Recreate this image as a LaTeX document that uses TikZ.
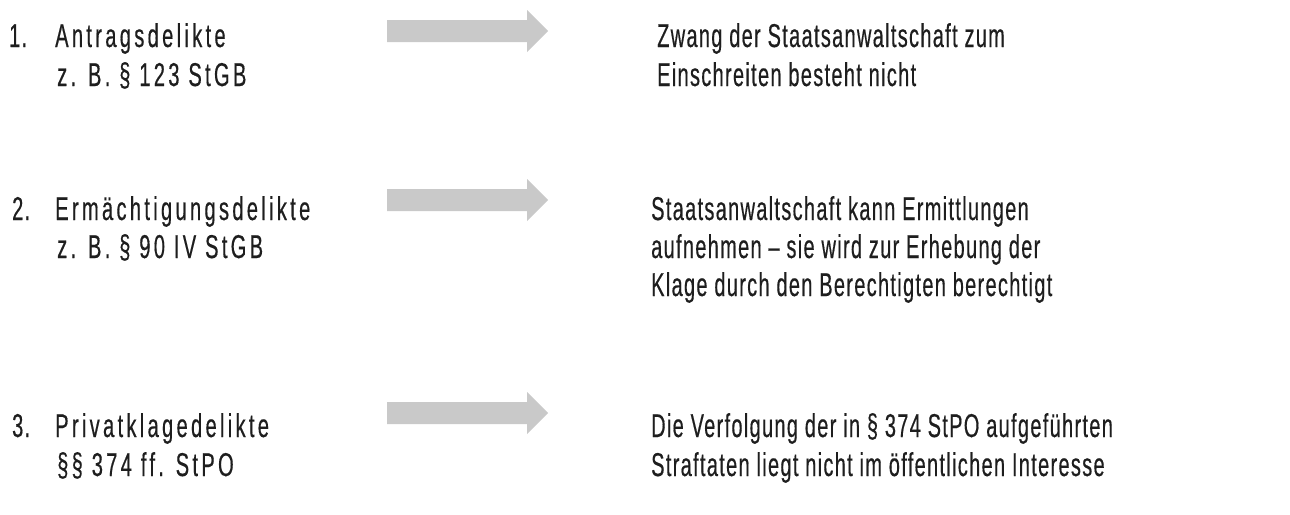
\documentclass[tikz,border=0pt]{standalone}
\usepackage{fontspec}
\setmainfont{Liberation Sans}[FakeStretch=0.605,LetterSpace=4,FakeBold=0.4]
\newfontfamily\leftfont{Liberation Sans}[FakeStretch=0.61,LetterSpace=10,FakeBold=0.4]
\definecolor{txtcol}{HTML}{1E1E1E}
\definecolor{arrcol}{HTML}{C9C9C9}
\begin{document}
\begin{tikzpicture}[x=1pt,y=-1pt,
  txt/.style={anchor=base west,inner sep=0pt,text=txtcol,font=\fontsize{33}{38}\selectfont},
  ltxt/.style={txt,font=\leftfont\fontsize{33}{38}\selectfont},
  blockarrow/.style={fill=arrcol,draw=none}]
\useasboundingbox (0,0) rectangle (1290,514);
% arrows
\foreach \c/\n in {31/a1,200/a2,413/a3}{
  \fill[blockarrow] (387,\c-11) -- (527,\c-11) -- (527,\c-21) -- (548,\c)
     -- (527,\c+21) -- (527,\c+11) -- (387,\c+11) -- cycle;
}
% row 1
\node[txt] (n1) at (9,47) {1.};
\node[ltxt] (l1a) at (55,47) {Antragsdelikte};
\node[ltxt] (l1b) at (57,86) {z. B. § 123 StGB};
\node[txt] (r1a) at (657,47) {Zwang der Staatsanwaltschaft zum};
\node[txt] (r1b) at (657,86) {Einschreiten besteht nicht};
% row 2
\node[txt] (n2) at (12,220) {2.};
\node[ltxt] (l2a) at (55,220) {Ermächtigungsdelikte};
\node[ltxt] (l2b) at (57,258) {z. B. § 90 IV StGB};
\node[txt] (r2a) at (651,220) {Staatsanwaltschaft kann Ermittlungen};
\node[txt] (r2b) at (651,258) {aufnehmen – sie wird zur Erhebung der};
\node[txt] (r2c) at (651,296) {Klage durch den Berechtigten berechtigt};
% row 3
\node[txt] (n3) at (12,437) {3.};
\node[ltxt] (l3a) at (55,437) {Privatklagedelikte};
\node[ltxt] (l3b) at (57,476) {§§ 374 ff. StPO};
\node[txt] (r3a) at (651,437) {Die Verfolgung der in § 374 StPO aufgeführten};
\node[txt] (r3b) at (651,476) {Straftaten liegt nicht im öffentlichen Interesse};
\end{tikzpicture}
\end{document}
